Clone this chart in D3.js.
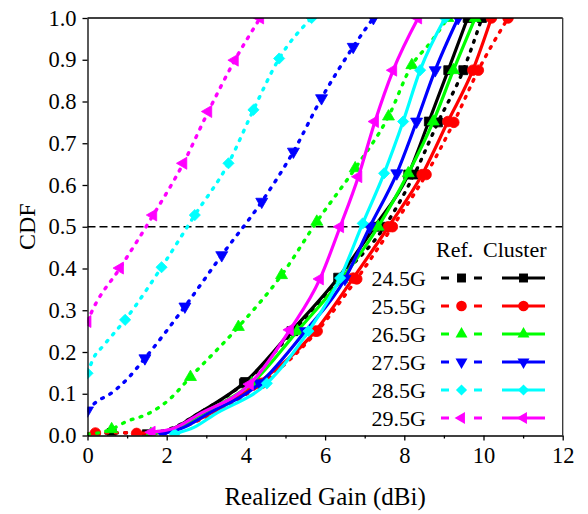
<!DOCTYPE html>
<html>
<head>
<meta charset="utf-8">
<script src="https://cdn.jsdelivr.net/npm/d3@7"></script>
<style>
  body { margin: 0; background: #fff; }
  svg text { font-family: "Liberation Serif", "Times New Roman", Tinos, "DejaVu Serif", serif !important; fill: #000; }
</style>
</head>
<body>
<div id="chart"></div>
<script>
// ---- data ----
const xTicks = [0, 2, 4, 6, 8, 10, 12];
const xMinorTicks = [1, 3, 5, 7, 9, 11];
const yTicks = [0, 0.1, 0.2, 0.3, 0.4, 0.5, 0.6, 0.7, 0.8, 0.9, 1.0];
const freqs = ["24.5G", "25.5G", "26.5G", "27.5G", "28.5G", "29.5G"];
const refLevel = 0.5;

// Ref. curves [gain, cdf]
const ref245 = [[0,0.003],[0.61,0.006],[1.6,0.007],[2.2,0.02],[2.75,0.05],[3.95,0.125],[5.2,0.25],[6.35,0.375],[7.5,0.5],[8.25,0.625],[8.85,0.75],[9.49,0.875],[9.96,1.0]];
const ref255 = [[0,0.004],[0.2,0.006],[1.24,0.007],[1.9,0.009],[2.45,0.022],[3.1,0.05],[4.4,0.125],[5.8,0.25],[6.8,0.375],[7.7,0.5],[8.55,0.625],[9.25,0.75],[9.87,0.875],[10.62,1.0]];
const ref265 = [[0,0.003],[0.61,0.015],[0.95,0.032],[1.55,0.053],[2.05,0.085],[2.6,0.14],[3.81,0.26],[4.9,0.384],[5.79,0.512],[6.76,0.64],[7.6,0.764],[8.19,0.887],[8.65,0.94],[9.1,1.0]];
const ref275 = [[0,0.06],[0.23,0.081],[0.55,0.098],[1.0,0.135],[1.45,0.185],[2.46,0.309],[3.39,0.432],[4.4,0.56],[5.2,0.68],[5.91,0.808],[6.71,0.931],[7.22,1.0]];
const ref285 = [[0,0.149],[0.15,0.185],[0.4,0.215],[0.95,0.277],[1.87,0.403],[2.71,0.528],[3.56,0.652],[4.19,0.78],[4.84,0.903],[5.66,1.0]];
const ref295 = [[0,0.273],[0.1,0.295],[0.82,0.401],[1.66,0.528],[2.42,0.652],[3.05,0.776],[3.72,0.899],[4.36,1.0]];

// Cluster curves [gain, cdf]
const cl245 = [[1.5,0.003],[2.2,0.018],[2.75,0.05],[3.98,0.128],[5.15,0.25],[6.33,0.378],[7.25,0.5],[8.1,0.625],[8.62,0.752],[9.11,0.875],[9.6,1.0]];
const cl255 = [[1.24,0.005],[2.0,0.01],[2.5,0.025],[3.05,0.05],[4.3,0.125],[5.75,0.25],[6.71,0.377],[7.6,0.5],[8.45,0.625],[9.1,0.752],[9.73,0.875],[10.2,1.0]];
const cl265 = [[1.6,0.004],[2.3,0.02],[2.85,0.05],[4.15,0.125],[5.3,0.25],[6.42,0.375],[7.34,0.5],[8.1,0.628],[8.73,0.752],[9.24,0.875],[9.79,1.0]];
const cl275 = [[1.9,0.004],[2.45,0.02],[3.0,0.05],[4.35,0.125],[5.5,0.25],[6.5,0.375],[7.13,0.5],[7.81,0.628],[8.31,0.752],[8.78,0.875],[9.36,1.0]];
const cl285 = [[2.2,0.004],[2.7,0.02],[3.2,0.05],[4.53,0.125],[5.58,0.25],[6.38,0.377],[6.95,0.508],[7.49,0.628],[7.97,0.752],[8.4,0.875],[9.03,1.0]];
const cl295 = [[1.62,0.008],[2.2,0.018],[2.8,0.05],[4.1,0.123],[5.11,0.253],[5.87,0.375],[6.38,0.5],[6.84,0.62],[7.26,0.752],[7.72,0.875],[8.35,1.0]];

// which points carry a marker
const ref245Marks = [1,5,6,7,8,9,10,11,12];
const ref255Marks = [1,6,7,8,9,10,11,12,13];
const ref265Marks = [1,5,6,7,8,9,10,11,13];
const ref275Marks = [0,4,5,6,7,8,9,10,11];
const ref285Marks = [0,3,4,5,6,7,8,9];
const ref295Marks = [0,2,3,4,5,6,7];
const cl245Marks = [0,3,4,5,6,7,8,9,10];
const cl255Marks = [0,4,5,6,7,8,9,10,11];
const cl265Marks = [0,3,4,5,6,7,8,9,10];
const cl275Marks = [0,3,4,5,6,7,8,9,10];
const cl285Marks = [0,3,4,5,6,7,8,9,10];
const cl295Marks = [0,3,4,5,6,7,8,9,10];

// ---- styles ----
const colors = ["#000000", "#ff0000", "#00ff00", "#0000ff", "#00ffff", "#ff00ff"];
const shapes = ["square", "circle", "up", "down", "diamond", "left"];
const serif = "'Liberation Serif', 'Times New Roman', Tinos, 'DejaVu Serif', serif";

const refSeries = [ref245, ref255, ref265, ref275, ref285, ref295];
const refMarks = [ref245Marks, ref255Marks, ref265Marks, ref275Marks, ref285Marks, ref295Marks];
const clSeries = [cl245, cl255, cl265, cl275, cl285, cl295];
const clMarks = [cl245Marks, cl255Marks, cl265Marks, cl275Marks, cl285Marks, cl295Marks];

const W = 588, H = 514;
const margin = { top: 18, right: 25.3, bottom: 78.5, left: 87.5 };
const width = W - margin.left - margin.right;
const height = H - margin.top - margin.bottom;

const svg = d3.select("#chart").append("svg")
    .attr("width", W)
    .attr("height", H)
    .attr("font-family", serif);

const g = svg.append("g")
    .attr("transform", "translate(" + margin.left + "," + margin.top + ")");

const x = d3.scaleLinear().domain([0, 12]).range([0, width]);
const y = d3.scaleLinear().domain([0, 1]).range([height, 0]);

g.append("clipPath").attr("id", "plot-clip")
    .append("rect")
    .attr("width", width)
    .attr("height", height);

// marker symbol
function symbolFor(shape) {
    if (shape === "square") return { d: d3.symbol(d3.symbolSquare, 80)(), rot: 0 };
    if (shape === "circle") return { d: d3.symbol(d3.symbolCircle, 88)(), rot: 0 };
    if (shape === "up") return { d: d3.symbol(d3.symbolTriangle, 62)(), rot: 0 };
    if (shape === "down") return { d: d3.symbol(d3.symbolTriangle, 62)(), rot: 180 };
    if (shape === "left") return { d: d3.symbol(d3.symbolTriangle, 62)(), rot: -90 };
    return { d: d3.symbol(d3.symbolSquare, 62)(), rot: 45 };
}

// reference line at CDF = 0.5
g.append("line")
    .attr("x1", 0).attr("x2", width)
    .attr("y1", y(refLevel)).attr("y2", y(refLevel))
    .attr("stroke", "#000")
    .attr("stroke-width", 1.3)
    .attr("stroke-dasharray", "8,4");

const line = d3.line()
    .x(d => x(d[0]))
    .y(d => y(d[1]))
    .curve(d3.curveMonotoneX);

const plot = g.append("g").attr("clip-path", "url(#plot-clip)");

function drawSeries(pts, marks, i, dashed) {
    plot.append("path")
        .attr("d", line(pts))
        .attr("fill", "none")
        .attr("stroke", colors[i])
        .attr("stroke-width", dashed ? 3.4 : 3.2)
        .attr("stroke-linecap", "round")
        .attr("stroke-linejoin", "round")
        .attr("stroke-dasharray", dashed ? "1.8,7.5" : null);

    let sym = symbolFor(shapes[i]);
    plot.selectAll(null)
        .data(marks.map(k => pts[k]))
        .enter()
        .append("path")
        .attr("d", sym.d)
        .attr("transform", d => "translate(" + x(d[0]) + "," + y(d[1]) + ") rotate(" + sym.rot + ")")
        .attr("fill", colors[i])
        .attr("stroke", colors[i])
        .attr("stroke-width", 0.8);
}

refSeries.forEach((pts, i) => drawSeries(pts, refMarks[i], i, true));
clSeries.forEach((pts, i) => drawSeries(pts, clMarks[i], i, false));

// axes
const xAxis = d3.axisBottom(x)
    .tickValues(xTicks)
    .tickFormat(d3.format("d"))
    .tickSize(5)
    .tickSizeOuter(0)
    .tickPadding(7);

const xMinor = d3.axisBottom(x)
    .tickValues(xMinorTicks)
    .tickFormat("")
    .tickSize(3)
    .tickSizeOuter(0);

const yAxis = d3.axisLeft(y)
    .tickValues(yTicks)
    .tickFormat(d3.format(".1f"))
    .tickSize(5)
    .tickSizeOuter(0)
    .tickPadding(6);

g.append("g")
    .attr("transform", "translate(0," + height + ")")
    .call(xMinor)
    .call(a => a.select(".domain").remove())
    .selectAll("line").attr("stroke-width", 1.3);

g.append("g")
    .attr("class", "axis x-axis")
    .attr("transform", "translate(0," + height + ")")
    .call(xAxis);

g.append("g")
    .attr("class", "axis y-axis")
    .call(yAxis);

g.selectAll(".axis").attr("font-family", serif);
g.selectAll(".axis text")
    .style("font-size", "22.5px")
    .style("font-family", serif);
g.selectAll(".axis line, .axis path").attr("stroke", "#000").attr("stroke-width", 1.3);

// top and right frame
g.append("line")
    .attr("x1", 0).attr("x2", width).attr("y1", 0).attr("y2", 0)
    .attr("stroke", "#000").attr("stroke-width", 1.3);
g.append("line")
    .attr("x1", width).attr("x2", width).attr("y1", 0).attr("y2", height)
    .attr("stroke", "#333").attr("stroke-width", 1.3);

// axis titles
svg.append("text")
    .attr("x", margin.left + width / 2)
    .attr("y", 505)
    .attr("text-anchor", "middle")
    .style("font-size", "25px")
    .style("font-family", serif)
    .text("Realized Gain (dBi)");

svg.append("text")
    .attr("transform", "translate(35," + (margin.top + height / 2) + ") rotate(-90)")
    .attr("text-anchor", "middle")
    .style("font-size", "24px")
    .style("font-family", serif)
    .text("CDF");

// legend
const legend = svg.append("g");
legend.append("text")
    .attr("x", 436).attr("y", 257)
    .style("font-size", "22px")
    .style("font-family", serif)
    .text("Ref.");
legend.append("text")
    .attr("x", 483).attr("y", 257)
    .style("font-size", "22px")
    .style("font-family", serif)
    .text("Cluster");

freqs.forEach((f, i) => {
    let ry = 278 + i * 28;
    let sym = symbolFor(shapes[i]);

    legend.append("text")
        .attr("x", 426).attr("y", ry + 8)
        .attr("text-anchor", "end")
        .style("font-size", "22px")
        .style("font-family", serif)
        .text(f);

    legend.append("line")
        .attr("x1", 441).attr("x2", 482)
        .attr("y1", ry).attr("y2", ry)
        .attr("stroke", colors[i])
        .attr("stroke-width", 3.2)
        .attr("stroke-dasharray", "8,25,8");
    legend.append("path")
        .attr("d", sym.d)
        .attr("transform", "translate(461.5," + ry + ") rotate(" + sym.rot + ")")
        .attr("fill", colors[i]);

    legend.append("line")
        .attr("x1", 502).attr("x2", 545)
        .attr("y1", ry).attr("y2", ry)
        .attr("stroke", colors[i])
        .attr("stroke-width", 3.2);
    legend.append("path")
        .attr("d", sym.d)
        .attr("transform", "translate(523.5," + ry + ") rotate(" + sym.rot + ")")
        .attr("fill", colors[i]);
});
</script>
</body>
</html>
